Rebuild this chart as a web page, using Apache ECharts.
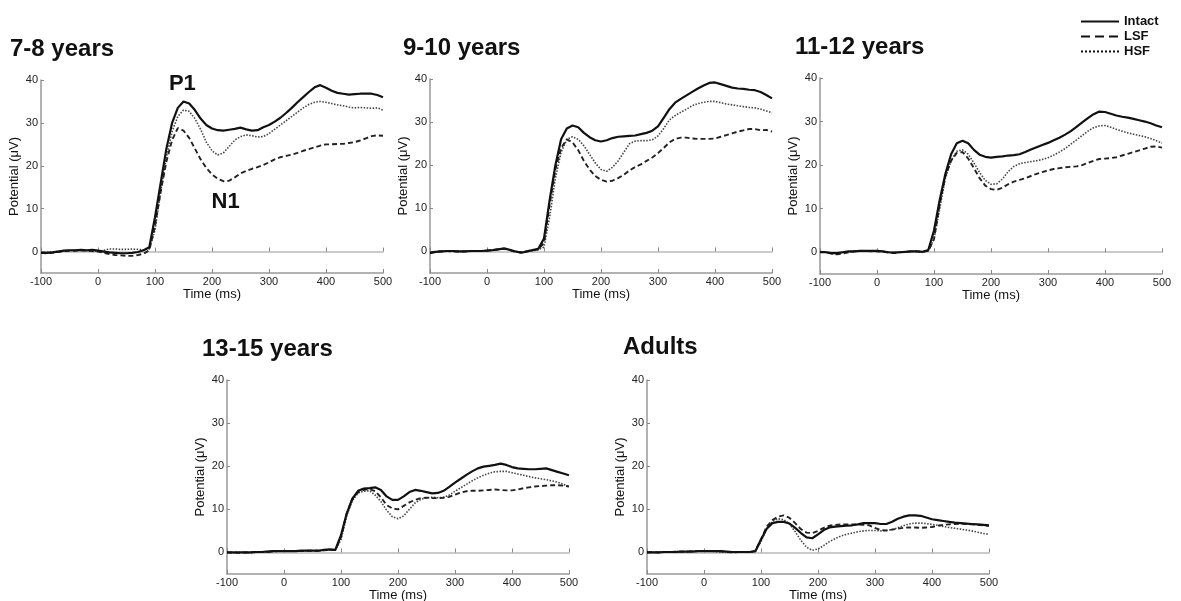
<!DOCTYPE html>
<html><head><meta charset="utf-8">
<script src="https://cdn.jsdelivr.net/npm/echarts@6/dist/echarts.min.js"></script>
<style>html,body{margin:0;padding:0;background:#fff}#c{width:1181px;height:601px}</style>
</head><body><div id="c"></div>
<script>
// ---- data ----
const times = [-100,-90,-80,-70,-60,-50,-40,-30,-20,-10,0,10,20,30,40,50,60,70,80,90,
  100,110,120,130,140,150,160,170,180,190,200,210,220,230,240,250,260,270,280,290,
  300,310,320,330,340,350,360,370,380,390,400,410,420,430,440,450,460,470,480,490,500];
const panelTitles = ['7-8 years','9-10 years','11-12 years','13-15 years','Adults'];
const seriesNames = ['Intact','LSF','HSF'];
const yTickValues = [0,10,20,30,40];
const annotations = [{name:'P1', t:148, v:39.0},{name:'N1', t:224, v:11.6}];

const intact78 = [-0.3,-0.3,-0.2,0,0.2,0.3,0.3,0.4,0.3,0.4,0.2,0,-0.2,-0.3,-0.4,-0.4,-0.3,-0.1,0.3,1.0,
  8,16,24,30,33.5,35,34.5,33,31,29.5,28.7,28.3,28.2,28.4,28.6,28.9,28.5,28.2,28.3,29,29.5,30.3,31.2,32.3,33.5,34.8,36,37.2,38.3,38.8,38.2,37.5,37,36.8,36.6,36.7,36.8,36.8,36.8,36.5,36.0];
const lsf78 = [-0.3,-0.4,-0.3,-0.1,0.1,0.2,0.2,0.3,0.2,0.1,0,-0.3,-0.6,-0.8,-0.9,-1,-1,-0.8,-0.5,0.3,
  6,14,21,26,28.8,28.2,26.5,24,21.5,19.5,18,17,16.4,16.5,17.3,18.2,18.8,19.3,19.7,20.2,20.8,21.5,22,22.3,22.6,23,23.5,23.9,24.3,24.7,25,25,25.1,25.1,25.3,25.5,25.9,26.4,26.9,27.1,27.0];
const hsf78 = [-0.2,-0.2,-0.1,0.1,0.2,0.2,0.3,0.3,0.2,0.2,0.1,0.3,0.6,0.6,0.5,0.5,0.6,0.5,0.4,0.6,
  5,14,22,28,31.5,33,32.7,31,28.5,25.5,23.5,22.5,23,24.5,26,26.8,27.2,27,26.7,26.8,27.5,28.5,29.5,30.5,31.5,32.5,33.5,34.3,34.8,35,34.8,34.5,34.2,34,33.7,33.5,33.6,33.5,33.4,33.5,33];

const intact910 = [-0.4,-0.1,0,0.1,0.1,0,0,0.1,0.1,0.1,0.2,0.3,0.5,0.7,0.4,0,-0.3,0,0.3,0.6,
  3,12,20,26,28.5,29.2,28.8,27.5,26.5,25.8,25.5,25.8,26.3,26.6,26.7,26.8,26.9,27.2,27.5,28,29,31,33,34.5,35.4,36.2,37,37.8,38.5,39.1,39.2,38.8,38.4,38,37.8,37.7,37.5,37.4,37,36.3,35.5];
const lsf910 = [-0.3,0,0,0.1,0,0,0,0.1,0.1,0.1,0.2,0.3,0.5,0.6,0.3,-0.1,-0.2,0,0.3,0.5,
  2,11,19,24,26,25.3,23.5,21,19,17.5,16.6,16.2,16.4,17,17.8,18.8,19.6,20.2,21,21.8,22.8,24,25.3,26.1,26.4,26.4,26.2,26.1,26.1,26.1,26.2,26.6,27,27.4,27.8,28.1,28.4,28.4,28.1,28.2,27.8];
const hsf910 = [-0.3,-0.1,0,0.1,0.1,0,0,0,0.1,0.1,0.2,0.3,0.5,0.6,0.3,-0.1,-0.3,0,0.2,0.4,
  1,8,17,23,26,26.6,26,24.5,22.5,20.5,19,18.6,19.5,21,23,25,25.6,25.7,25.7,25.9,26.8,28.5,30.5,31.5,32.3,33,33.8,34.3,34.6,34.8,34.8,34.5,34.2,34,33.8,33.6,33.4,33.3,33,32.6,32.2];

const intact1112 = [0,0,-0.2,-0.2,0,0.2,0.2,0.3,0.3,0.3,0.3,0.2,0,-0.1,0,0.1,0.2,0.2,0.1,0.5,
  5,12,18,22.5,25,25.6,25,23.5,22.4,21.9,21.7,21.9,22,22.2,22.3,22.5,23,23.6,24.1,24.6,25.1,25.7,26.3,27,27.8,28.8,29.8,30.8,31.7,32.3,32.2,31.8,31.4,31.1,30.9,30.6,30.3,30,29.6,29.1,28.7];
const lsf1112 = [0.1,0,-0.3,-0.5,-0.3,0,0.2,0.3,0.3,0.2,0.2,0.1,-0.1,-0.2,0,0.1,0.2,0.2,0.1,0.3,
  3,11,17.5,21,22.8,23,21.5,19.3,17,15.3,14.5,14.3,14.8,15.6,16.2,16.6,17,17.5,18,18.4,18.8,19.1,19.3,19.5,19.6,19.7,20,20.5,21,21.4,21.5,21.6,21.8,22.2,22.6,23,23.4,23.8,24.2,24.3,24];
const hsf1112 = [0,0,-0.3,-0.3,0,0.1,0.2,0.3,0.3,0.3,0.3,0.2,0,-0.1,0,0.1,0.2,0.2,0.1,0.3,
  3,10,17,21,23.2,23.5,22.5,20.5,18.3,16.5,15.6,15.7,16.8,18.5,19.7,20.3,20.6,20.8,21,21.3,21.7,22.3,23,23.8,24.8,25.8,26.8,27.8,28.6,29,29.1,28.7,28.2,27.8,27.4,27.1,26.8,26.5,26.1,25.6,25.1];

const intact1315 = [0,0,0,0,0,0.1,0.1,0.2,0.3,0.3,0.3,0.3,0.3,0.4,0.4,0.4,0.4,0.6,0.7,0.6,
  4,9,12.5,14.3,14.8,14.9,15.1,14.5,13,12.2,12.2,13,14,14.5,14.3,14,13.7,13.8,14.3,15.2,16.2,17.1,18,18.8,19.5,19.9,20.1,20.3,20.6,20.3,19.8,19.5,19.4,19.3,19.3,19.4,19.5,19.1,18.7,18.3,17.9];
const lsf1315 = [0,0,-0.1,0,0,0.1,0.1,0.1,0.2,0.3,0.3,0.3,0.3,0.3,0.4,0.4,0.4,0.5,0.6,0.6,
  3.5,9,12.5,14,14.5,14.7,14.2,12.8,11,10.2,10,10.8,11.6,12.2,12.6,12.7,12.6,12.6,12.7,12.9,13.4,13.9,14.2,14.3,14.3,14.4,14.5,14.6,14.5,14.4,14.4,14.6,14.9,15.1,15.3,15.4,15.5,15.6,15.6,15.5,15.3];
const hsf1315 = [0,-0.1,0,0,-0.1,0,0.1,0.2,0.2,0.3,0.3,0.3,0.3,0.3,0.4,0.4,0.4,0.5,0.6,0.5,
  3,8.5,12,13.8,14.2,14.3,13.3,11.8,9.8,8.3,7.8,8.5,10,11.5,12.3,12.7,12.8,12.7,12.8,13.3,14.2,15,15.8,16.6,17.3,17.9,18.4,18.7,18.8,18.8,18.5,18.2,17.9,17.6,17.3,17.1,16.9,16.6,16.3,15.8,15.2];

const intactAdults = [0,0,0,0.1,0.1,0.1,0.2,0.2,0.2,0.3,0.3,0.3,0.3,0.3,0.2,0.1,0.1,0.1,0.1,0.3,
  3,5.5,6.8,7.1,7.1,6.7,5.7,4.5,3.5,3.3,4.2,5.2,5.8,6,6.1,6.2,6.3,6.5,6.8,6.8,6.8,6.6,6.6,7.1,7.8,8.3,8.6,8.6,8.5,8.1,7.7,7.5,7.3,7.1,6.9,6.8,6.7,6.6,6.5,6.4,6.3];
const lsfAdults = [0,0.1,0,0.1,0.1,0.2,0.2,0.2,0.3,0.3,0.3,0.3,0.3,0.2,0.1,0,0.1,0.1,0.1,0.3,
  3,6,7.5,8.3,8.6,8,6.8,5.4,4.6,4.5,5,5.7,6.2,6.4,6.5,6.5,6.5,6.5,6.4,6.3,5.7,5.2,5.1,5.3,5.5,5.7,5.8,5.8,5.7,5.8,5.9,6.2,6.4,6.5,6.6,6.7,6.6,6.5,6.4,6.3,6.2];
const hsfAdults = [0,0,0.1,0.1,0.1,0.2,0.2,0.2,0.3,0.3,0.3,0.3,0.2,0.2,0.1,0,0.1,0.1,0.1,0.2,
  2.5,5.5,7.2,7.8,7.6,6.6,4.8,2.8,1.2,0.5,0.8,1.6,2.5,3.2,3.8,4.2,4.5,4.8,5,5.1,5.1,5,5.1,5.3,5.7,6.2,6.6,6.8,6.8,6.7,6.5,6.3,6,5.8,5.6,5.4,5.2,5,4.7,4.4,4.2];

const panelData = [
  [intact78, lsf78, hsf78],
  [intact910, lsf910, hsf910],
  [intact1112, lsf1112, hsf1112],
  [intact1315, lsf1315, hsf1315],
  [intactAdults, lsfAdults, hsfAdults]
];

// ---- layout / style ----
const FONT = '"Liberation Sans", Arial, sans-serif';
const grids = [
  {left:41, top:80, width:342, height:193},
  {left:430, top:79, width:342, height:194},
  {left:820, top:78, width:342, height:196},
  {left:227, top:380, width:342, height:194},
  {left:647, top:380, width:342, height:194}
].map(g => Object.assign({outerBoundsMode:'none', containLabel:false}, g));
const titlePos = [[10,37],[403,36],[795,35],[202,337],[623,335]];
const lineStyles = [
  {color:'#111', width:2.2, type:'solid'},
  {color:'#222', width:1.9, type:[5,3]},
  {color:'#444', width:1.6, type:[1.5,1.5]}
];
const legendDash = ['solid', [9,5], [2,2]];

const xAxes = [], yAxes = [], series = [];
grids.forEach((g, i) => {
  xAxes.push({
    type:'value', gridIndex:i, min:-100, max:500, interval:100, position:'bottom',
    axisLine:{show:true, onZero:true, lineStyle:{color:'#bbb', width:1.5}},
    axisTick:{show:true, inside:true, length:4, lineStyle:{color:'#888'}},
    axisLabel:{show:false}, splitLine:{show:false}
  });
  xAxes.push({
    type:'value', gridIndex:i, min:-100, max:500, interval:100, position:'bottom',
    axisLine:{show:true, onZero:false, lineStyle:{color:'#999', width:1.5}},
    axisTick:{show:true, inside:true, length:4, lineStyle:{color:'#888'}},
    axisLabel:{show:true, margin:3, fontSize:11, color:'#222', fontFamily:FONT},
    splitLine:{show:false},
    name:'Time (ms)', nameLocation:'middle', nameGap:12,
    nameTextStyle:{fontSize:13, color:'#111', fontFamily:FONT}
  });
  yAxes.push({
    type:'value', gridIndex:i, min:-5, max:40, position:'left',
    axisLine:{show:true, onZero:false, lineStyle:{color:'#999', width:1.5}},
    axisTick:{show:true, inside:true, length:3, customValues:yTickValues, lineStyle:{color:'#888'}},
    axisLabel:{show:true, customValues:yTickValues, margin:3, fontSize:11, color:'#222', fontFamily:FONT},
    splitLine:{show:false},
    name:'Potential (\u03bcV)', nameLocation:'middle', nameGap:20,
    nameTextStyle:{fontSize:13, color:'#111', fontFamily:FONT}
  });
  panelData[i].forEach((arr, s) => {
    const ser = {
      type:'line', name:seriesNames[s], xAxisIndex:2*i, yAxisIndex:i,
      data: times.map((t, k) => [t, arr[k]]),
      symbol:'none', showSymbol:false, silent:true,
      lineStyle: lineStyles[s], itemStyle:{color: lineStyles[s].color},
      z: 3 - s
    };
    if (i === 0 && s === 0) {
      ser.markPoint = {
        symbol:'rect', symbolSize:1, itemStyle:{color:'rgba(0,0,0,0)'}, silent:true,
        label:{show:true, position:'inside', formatter:'{b}', fontSize:22, fontWeight:'bold', color:'#111', fontFamily:FONT},
        data: annotations.map(a => ({name:a.name, coord:[a.t, a.v]}))
      };
    }
    series.push(ser);
  });
});

const chart = echarts.init(document.getElementById('c'), null, {renderer:'canvas'});
chart.setOption({
  backgroundColor:'#fff',
  animation:false,
  textStyle:{fontFamily:FONT},
  title: panelTitles.map((t, i) => ({
    text:t, left:titlePos[i][0], top:titlePos[i][1], padding:0,
    textStyle:{fontSize:24, fontWeight:'bold', color:'#111', fontFamily:FONT}
  })),
  legend:{
    orient:'vertical', left:1075, top:10, itemWidth:38, itemHeight:14, itemGap:2,
    selectedMode:false,
    itemStyle:{opacity:0},
    data: seriesNames.map((n, s) => ({
      name:n,
      itemStyle:{opacity:0},
      lineStyle:{type:legendDash[s], width:2, color:'#111'}
    })),
    textStyle:{fontSize:13, fontWeight:'bold', color:'#111', fontFamily:FONT}
  },
  grid: grids,
  xAxis: xAxes,
  yAxis: yAxes,
  series: series
});
</script></body></html>
